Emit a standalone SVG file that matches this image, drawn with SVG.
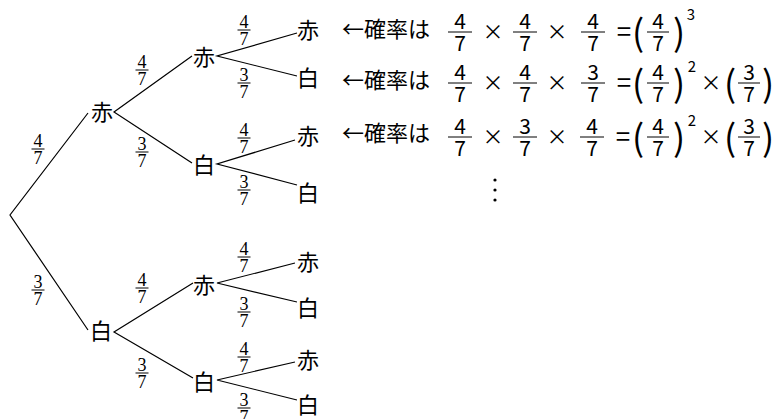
<svg xmlns="http://www.w3.org/2000/svg" width="777" height="419" viewBox="0 0 777 419">
<style>
.bg{fill:#fff}
.e{stroke:#000;stroke-width:1.2;fill:none}
.bar{stroke:#000;stroke-width:1}
.n{font-family:"Noto Sans CJK JP","Noto Sans",sans-serif;font-size:22px;text-anchor:middle;fill:#000}
.f{font-family:"Liberation Serif",serif;font-size:18px;text-anchor:middle;fill:#000}
.h{font-family:"Noto Sans CJK JP","Noto Sans",sans-serif;font-size:21px;text-anchor:middle;fill:#000}
.q{font-family:"Noto Sans CJK JP","Noto Sans",sans-serif;font-size:26px;text-anchor:middle;fill:#000}
.t{font-family:"Noto Sans CJK JP","Noto Sans",sans-serif;font-size:22px;fill:#000}
.p{font-family:"Noto Sans CJK JP","Noto Sans",sans-serif;font-size:36px;text-anchor:middle;fill:#000}
.s{font-family:"Noto Sans CJK JP","Noto Sans",sans-serif;font-size:15px;text-anchor:middle;fill:#000}
</style>
<rect class="bg" x="0" y="0" width="777" height="419"/>
<g id="connectors">
<path class="e" d="M88,113 L10,215 L88,330"/>
<path class="e" d="M192,56 L114,112 L192,163"/>
<path class="e" d="M193,283 L114,332 L193,378"/>
<path class="e" d="M297,33 L217,56 L297,76"/>
<path class="e" d="M295,140 L217,164 L297,185"/>
<path class="e" d="M295,263 L217,283 L297,302"/>
<path class="e" d="M295,362 L217,380 L297,400"/>
</g>
<g id="edge-labels">
<text class="f" x="38" y="147">4</text><line class="bar" x1="31.5" y1="149" x2="44.5" y2="149"/><text class="f" x="38" y="164">7</text>
<text class="f" x="38" y="288">3</text><line class="bar" x1="31.5" y1="290" x2="44.5" y2="290"/><text class="f" x="38" y="305">7</text>
<text class="f" x="142" y="68">4</text><line class="bar" x1="135.5" y1="70" x2="148.5" y2="70"/><text class="f" x="142" y="85">7</text>
<text class="f" x="142" y="150">3</text><line class="bar" x1="135.5" y1="152" x2="148.5" y2="152"/><text class="f" x="142" y="167">7</text>
<text class="f" x="142" y="286">4</text><line class="bar" x1="135.5" y1="288" x2="148.5" y2="288"/><text class="f" x="142" y="303">7</text>
<text class="f" x="142" y="371">3</text><line class="bar" x1="135.5" y1="373" x2="148.5" y2="373"/><text class="f" x="142" y="388">7</text>
<text class="f" x="244" y="28">4</text><line class="bar" x1="237.5" y1="30" x2="250.5" y2="30"/><text class="f" x="244" y="45">7</text>
<text class="f" x="244" y="81">3</text><line class="bar" x1="237.5" y1="83" x2="250.5" y2="83"/><text class="f" x="244" y="98">7</text>
<text class="f" x="244" y="136">4</text><line class="bar" x1="237.5" y1="138" x2="250.5" y2="138"/><text class="f" x="244" y="153">7</text>
<text class="f" x="244" y="188">3</text><line class="bar" x1="237.5" y1="190" x2="250.5" y2="190"/><text class="f" x="244" y="205">7</text>
<text class="f" x="244" y="255">4</text><line class="bar" x1="237.5" y1="257" x2="250.5" y2="257"/><text class="f" x="244" y="272">7</text>
<text class="f" x="244" y="310">3</text><line class="bar" x1="237.5" y1="312" x2="250.5" y2="312"/><text class="f" x="244" y="327">7</text>
<text class="f" x="244" y="355">4</text><line class="bar" x1="237.5" y1="357" x2="250.5" y2="357"/><text class="f" x="244" y="372">7</text>
<text class="f" x="244" y="406">3</text><line class="bar" x1="237.5" y1="408" x2="250.5" y2="408"/><text class="f" x="244" y="423">7</text>
</g>
<g id="n1r"><text class="n" x="102" y="120">赤</text></g>
<g id="n1w"><text class="n" x="101" y="339">白</text></g>
<g id="n2r1"><text class="n" x="204" y="65">赤</text></g>
<g id="n2w1"><text class="n" x="204" y="173">白</text></g>
<g id="n2r2"><text class="n" x="204" y="293">赤</text></g>
<g id="n2w2"><text class="n" x="204" y="390">白</text></g>
<g id="n3a"><text class="n" x="308" y="38">赤</text></g>
<g id="n3b"><text class="n" x="308" y="86">白</text></g>
<g id="n3c"><text class="n" x="308" y="144">赤</text></g>
<g id="n3d"><text class="n" x="308" y="201">白</text></g>
<g id="n3e"><text class="n" x="308" y="270">赤</text></g>
<g id="n3f"><text class="n" x="308" y="316">白</text></g>
<g id="n3g"><text class="n" x="308" y="368">赤</text></g>
<g id="n3h"><text class="n" x="308" y="413">白</text></g>
<g id="row1">
<text class="t" x="342" y="37">←確率は</text>
<text class="h" x="460" y="29">4</text><line class="bar" x1="448" y1="32" x2="472" y2="32"/><text class="h" x="460" y="51">7</text>
<text class="h" x="493" y="39">×</text>
<text class="h" x="525" y="29">4</text><line class="bar" x1="513" y1="32" x2="537" y2="32"/><text class="h" x="525" y="51">7</text>
<text class="h" x="557" y="39">×</text>
<text class="h" x="593" y="29">4</text><line class="bar" x1="581" y1="32" x2="605" y2="32"/><text class="h" x="593" y="51">7</text>
<text class="q" x="624" y="41">=</text>
<text class="p" x="638" y="46">(</text>
<text class="h" x="658" y="29">4</text><line class="bar" x1="647" y1="32" x2="669" y2="32"/><text class="h" x="658" y="51">7</text>
<text class="p" x="679" y="46">)</text>
<text class="s" x="691" y="20">3</text>
</g>
<g id="row2">
<text class="t" x="342" y="88">←確率は</text>
<text class="h" x="460" y="80">4</text><line class="bar" x1="448" y1="83" x2="472" y2="83"/><text class="h" x="460" y="102">7</text>
<text class="h" x="493" y="90">×</text>
<text class="h" x="525" y="80">4</text><line class="bar" x1="513" y1="83" x2="537" y2="83"/><text class="h" x="525" y="102">7</text>
<text class="h" x="557" y="90">×</text>
<text class="h" x="593" y="80">3</text><line class="bar" x1="581" y1="83" x2="605" y2="83"/><text class="h" x="593" y="102">7</text>
<text class="q" x="624" y="92">=</text>
<text class="p" x="638" y="97">(</text>
<text class="h" x="658" y="80">4</text><line class="bar" x1="647" y1="83" x2="669" y2="83"/><text class="h" x="658" y="102">7</text>
<text class="p" x="679" y="97">)</text>
<text class="s" x="692" y="72">2</text>
<text class="h" x="711" y="90">×</text>
<text class="p" x="730" y="97">(</text>
<text class="h" x="749" y="80">3</text><line class="bar" x1="738" y1="83" x2="760" y2="83"/><text class="h" x="749" y="102">7</text>
<text class="p" x="768" y="97">)</text>
</g>
<g id="row3">
<text class="t" x="342" y="141">←確率は</text>
<text class="h" x="460" y="134">4</text><line class="bar" x1="448" y1="137" x2="472" y2="137"/><text class="h" x="460" y="156">7</text>
<text class="h" x="493" y="144">×</text>
<text class="h" x="525" y="134">3</text><line class="bar" x1="513" y1="137" x2="537" y2="137"/><text class="h" x="525" y="156">7</text>
<text class="h" x="557" y="144">×</text>
<text class="h" x="592" y="134">4</text><line class="bar" x1="580" y1="137" x2="604" y2="137"/><text class="h" x="592" y="156">7</text>
<text class="q" x="623" y="146">=</text>
<text class="p" x="638" y="151">(</text>
<text class="h" x="658" y="134">4</text><line class="bar" x1="647" y1="137" x2="669" y2="137"/><text class="h" x="658" y="156">7</text>
<text class="p" x="679" y="151">)</text>
<text class="s" x="692" y="126">2</text>
<text class="h" x="711" y="144">×</text>
<text class="p" x="730" y="151">(</text>
<text class="h" x="749" y="134">3</text><line class="bar" x1="738" y1="137" x2="760" y2="137"/><text class="h" x="749" y="156">7</text>
<text class="p" x="768" y="151">)</text>
</g>
<g id="vdots">
<circle cx="495" cy="180" r="1.6" fill="#000"/>
<circle cx="495" cy="190" r="1.6" fill="#000"/>
<circle cx="495" cy="200" r="1.6" fill="#000"/>
</g>
</svg>
